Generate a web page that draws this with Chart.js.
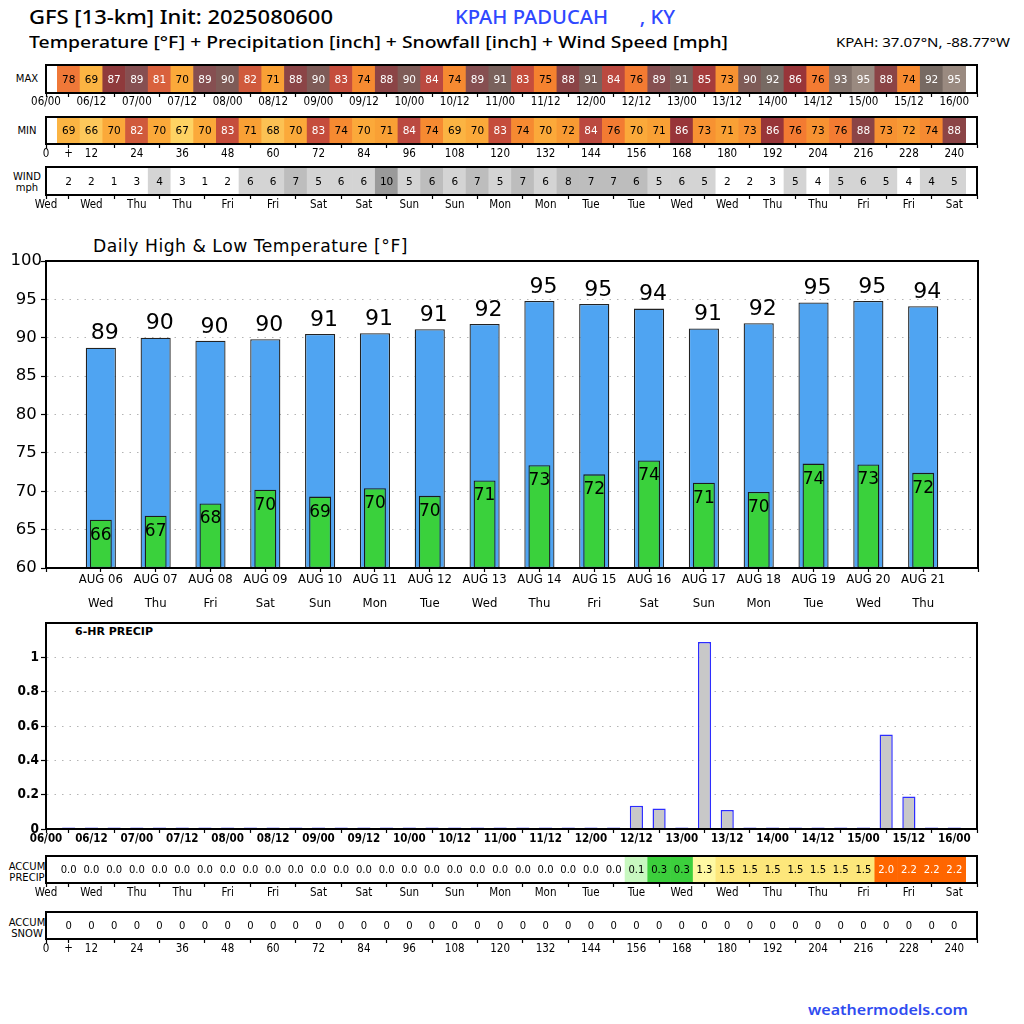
<!DOCTYPE html>
<html>
<head>
<meta charset="utf-8">
<title>GFS KPAH Paducah</title>
<script src="https://cdn.jsdelivr.net/npm/chart.js@4.4.1/dist/chart.umd.min.js"></script>
<style>
  html, body { margin: 0; padding: 0; background: #fff; }
  body { width: 1024px; height: 1024px; position: relative; overflow: hidden; font-family: 'DejaVu Sans', sans-serif; }
  canvas { position: absolute; left: 0; }
  .txt { position: absolute; white-space: pre; color: #000; transform-origin: 0 0; }
  .row { position: absolute; left: 0; width: 54px; text-align: center; font: 10px 'DejaVu Sans', sans-serif; line-height: 11px; }
</style>
</head>
<body>
<div class="txt" data-w="304" style="left:29px; top:4px; font:500 19px 'Noto Sans', sans-serif;">GFS [13-km] Init: 2025080600</div>
<div class="txt" data-w="220" style="left:455px; top:4px; font:500 19px 'Noto Sans', sans-serif; color:#2f48ff;">KPAH PADUCAH      , KY</div>
<div class="txt" data-w="699" style="left:29px; top:30px; font:500 17px 'Noto Sans', sans-serif;">Temperature [°F] + Precipitation [inch] + Snowfall [inch] + Wind Speed [mph]</div>
<div class="txt" data-w="174" style="left:836px; top:34px; font:12.5px 'Noto Sans', sans-serif;">KPAH: 37.07°N, -88.77°W</div>

<div class="row" style="top:73px;">MAX</div>
<div class="row" style="top:125px;">MIN</div>
<div class="row" style="top:171px;">WIND<br>mph</div>
<div class="row" style="top:861px;">ACCUM<br>PRECIP</div>
<div class="row" style="top:917px;">ACCUM<br>SNOW</div>

<div class="txt" data-w="315" style="left:93px; top:236px; font:17px 'DejaVu Sans', sans-serif; letter-spacing:0.5px;">Daily High &amp; Low Temperature [°F]</div>
<div class="txt" style="left:75px; top:625px; font:bold 11px 'DejaVu Sans', sans-serif;">6-HR PRECIP</div>
<div class="txt" data-w="160" style="left:808px; top:999px; font:600 15px 'Noto Sans', sans-serif; color:#2f4cf0;">weathermodels.com</div>

<canvas id="cMax" width="1024" height="60" style="top:60px"></canvas>
<canvas id="cMin" width="1024" height="60" style="top:112px"></canvas>
<canvas id="cWind" width="1024" height="60" style="top:162px"></canvas>
<canvas id="cTemp" width="1024" height="370" style="top:245px"></canvas>
<canvas id="cPrecip" width="1024" height="240" style="top:617px"></canvas>
<canvas id="cAccP" width="1024" height="55" style="top:850px"></canvas>
<canvas id="cAccS" width="1024" height="60" style="top:906px"></canvas>

<script>
// forecast hours of the 6-hourly cells
const hours = [6, 12, 18, 24, 30, 36, 42, 48, 54, 60, 66, 72, 78, 84, 90, 96, 102, 108, 114, 120,
               126, 132, 138, 144, 150, 156, 162, 168, 174, 180, 186, 192, 198, 204, 210, 216, 222, 228, 234, 240];

const maxTemps = [78, 69, 87, 89, 81, 70, 89, 90, 82, 71, 88, 90, 83, 74, 88, 90, 84, 74, 89, 91,
                  83, 75, 88, 91, 84, 76, 89, 91, 85, 73, 90, 92, 86, 76, 93, 95, 88, 74, 92, 95];
const minTemps = [69, 66, 70, 82, 70, 67, 70, 83, 71, 68, 70, 83, 74, 70, 71, 84, 74, 69, 70, 83,
                  74, 70, 72, 84, 76, 70, 71, 86, 73, 71, 73, 86, 76, 73, 76, 88, 73, 72, 74, 88];
const windMph = [2.3, 2.5, 1.6, 3.4, 4.8, 3.2, 1.5, 2.6, 6.2, 6.4, 7.3, 5.5, 6.1, 6.3, 10.2, 5.6, 6.95, 6.2, 7.4, 5.7,
                 7.2, 6.4, 8.3, 7.5, 7.1, 6.95, 5.4, 6.3, 5.5, 2.7, 2.4, 3.1, 5.2, 4.2, 5.3, 6.1, 5.6, 4.3, 4.7, 5.4];
const precip6h = [0, 0, 0, 0, 0, 0, 0, 0, 0, 0, 0, 0, 0, 0, 0, 0, 0, 0, 0, 0,
                  0, 0, 0, 0, 0, 0.135, 0.12, 0, 1.09, 0.11, 0, 0, 0, 0, 0, 0, 0.55, 0.19, 0, 0];
const accumPrecip = [0, 0, 0, 0, 0, 0, 0, 0, 0, 0, 0, 0, 0, 0, 0, 0, 0, 0, 0, 0,
                     0, 0, 0, 0, 0, 0.1, 0.3, 0.3, 1.3, 1.5, 1.5, 1.5, 1.5, 1.5, 1.5, 1.5, 2.0, 2.2, 2.2, 2.2];
const accumSnow = [0, 0, 0, 0, 0, 0, 0, 0, 0, 0, 0, 0, 0, 0, 0, 0, 0, 0, 0, 0,
                   0, 0, 0, 0, 0, 0, 0, 0, 0, 0, 0, 0, 0, 0, 0, 0, 0, 0, 0, 0];

// tick labels every 12 h (0 .. 240)
const dateTicks = ['06/00', '06/12', '07/00', '07/12', '08/00', '08/12', '09/00', '09/12', '10/00', '10/12', '11/00',
                   '11/12', '12/00', '12/12', '13/00', '13/12', '14/00', '14/12', '15/00', '15/12', '16/00'];
const hourTicks = ['0', '12', '24', '36', '48', '60', '72', '84', '96', '108', '120',
                   '132', '144', '156', '168', '180', '192', '204', '216', '228', '240'];
const dayTicks = ['Wed', 'Wed', 'Thu', 'Thu', 'Fri', 'Fri', 'Sat', 'Sat', 'Sun', 'Sun', 'Mon',
                  'Mon', 'Tue', 'Tue', 'Wed', 'Wed', 'Thu', 'Thu', 'Fri', 'Fri', 'Sat'];

// daily high / low chart
const days = ['AUG 06', 'AUG 07', 'AUG 08', 'AUG 09', 'AUG 10', 'AUG 11', 'AUG 12', 'AUG 13',
              'AUG 14', 'AUG 15', 'AUG 16', 'AUG 17', 'AUG 18', 'AUG 19', 'AUG 20', 'AUG 21'];
const weekdays = ['Wed', 'Thu', 'Fri', 'Sat', 'Sun', 'Mon', 'Tue', 'Wed', 'Thu', 'Fri', 'Sat', 'Sun', 'Mon', 'Tue', 'Wed', 'Thu'];
const dailyHigh = [88.7, 90.0, 89.6, 89.8, 90.5, 90.6, 91.1, 91.8, 94.8, 94.4, 93.8, 91.2, 91.9, 94.6, 94.8, 94.1];
const dailyHighLabel = [89, 90, 90, 90, 91, 91, 91, 92, 95, 95, 94, 91, 92, 95, 95, 94];
const dailyLow = [66.3, 66.8, 68.4, 70.2, 69.3, 70.4, 69.4, 71.4, 73.4, 72.2, 74.0, 71.1, 69.9, 73.6, 73.5, 72.4];
const dailyLowLabel = [66, 67, 68, 70, 69, 70, 70, 71, 73, 72, 74, 71, 70, 74, 73, 72];

const COND = "'DejaVu Sans Condensed', 'DejaVu Sans', sans-serif";
const SANS = "'DejaVu Sans', sans-serif";

// colour scales
const TEMP_COLORS = {
    66: '#fdc85b', 67: '#fed363', 68: '#fcc153', 69: '#fbb443', 70: '#fba93a', 71: '#f9a035', 72: '#f89a33',
    73: '#f79232', 74: '#f68a31', 75: '#f5822f', 76: '#f37b32', 78: '#ef7838', 81: '#d9613d', 82: '#d05a3c',
    83: '#c54d3c', 84: '#bb4940', 85: '#a53c3c', 86: '#983539', 87: '#8f3a3c', 88: '#8b4446', 89: '#864f51',
    90: '#7e5b57', 91: '#79615c', 92: '#776a63', 93: '#82726b', 95: '#9a8a80'
};
const tempColor = t => TEMP_COLORS[t] || '#ffffff';
const tempInk = t => (t > 80 ? '#ffffff' : '#000000');
const windColor = v => (v < 4.6 ? '#ffffff' : v < 6.9 ? '#d4d4d4' : v < 9.2 ? '#bdbdbd' : '#9a9a9a');
const precipColor = v => (v < 0.05 ? '#ffffff' : v < 0.2 ? '#c8f8c0' : v < 1.0 ? '#3ccf3c' :
                          v < 1.4 ? '#fef9a3' : v < 2.0 ? '#fde77b' : '#ff6600');

// black frame round the plot area
const frame = {
    id: 'frame',
    afterDraw(chart) {
        const { ctx, chartArea: a } = chart;
        ctx.save();
        ctx.strokeStyle = '#000';
        ctx.lineWidth = 2;
        ctx.strokeRect(a.left, a.top, a.right - a.left, a.bottom - a.top);
        ctx.restore();
    }
};

// text in the middle of each strip cell
function cellText(texts, inks, font) {
    return {
        id: 'cellText',
        afterDatasetsDraw(chart) {
            const { ctx, chartArea: a } = chart;
            const y = (a.top + a.bottom) / 2 + 1;
            ctx.save();
            ctx.font = font;
            ctx.textAlign = 'center';
            ctx.textBaseline = 'middle';
            chart.getDatasetMeta(0).data.forEach((bar, i) => {
                ctx.fillStyle = inks[i];
                ctx.fillText(texts[i], bar.x, y);
            });
            ctx.restore();
        }
    };
}

const noPadX = s => { s.paddingLeft = 0; s.paddingRight = 0; };

function hourAxis(labels, withPlus, xHeight, pad, bold) {
    return {
        type: 'linear',
        min: 0,
        max: 246,
        offset: false,
        afterFit: s => { s.height = xHeight; noPadX(s); },
        ticks: {
            stepSize: 6,
            autoSkip: false,
            maxRotation: 0,
            minRotation: 0,
            padding: pad,
            color: '#000',
            font: { family: COND, size: 11.5, weight: bold ? 'bold' : 'normal' },
            callback: v => (v % 12 === 0 ? labels[v / 12] : (withPlus && v === 6 ? '+' : ''))
        },
        grid: {
            offset: false,
            drawOnChartArea: false,
            drawTicks: true,
            tickLength: 4,
            tickWidth: 1.2,
            tickColor: c => (c.tick && c.tick.value % 12 === 0 && c.tick.value !== 0 ? 'rgba(0,0,0,0)' : '#000')
        },
        border: { display: true, color: '#000', width: 2 }
    };
}

function strip(id, fills, texts, inks, font, labels, withPlus, padTop, xHeight, pad) {
    return new Chart(document.getElementById(id), {
        type: 'bar',
        data: {
            datasets: [{
                data: hours.map(h => ({ x: h, y: [0, 1] })),
                backgroundColor: fills,
                borderWidth: 0,
                barPercentage: 1,
                categoryPercentage: 1
            }]
        },
        options: {
            responsive: false,
            animation: false,
            events: [],
            layout: { padding: { top: padTop, left: 46, right: 47, bottom: 0 }, autoPadding: false },
            plugins: { legend: { display: false }, tooltip: { enabled: false } },
            scales: {
                x: hourAxis(labels, withPlus, xHeight, pad, false),
                y: { display: false, min: 0, max: 1 }
            }
        },
        plugins: [cellText(texts, inks, font), frame]
    });
}

const cellFont = "10.5px " + SANS;

strip('cMax', maxTemps.map(tempColor), maxTemps.map(String), maxTemps.map(tempInk), cellFont,
      dateTicks, false, 5, 27, -1.5);
strip('cMin', minTemps.map(tempColor), minTemps.map(String), minTemps.map(tempInk), cellFont,
      hourTicks, true, 5, 28, -1.2);
strip('cWind', windMph.map(windColor), windMph.map(v => String(Math.floor(v))), windMph.map(() => '#000'), cellFont,
      dayTicks, false, 5, 27, -0.5);
strip('cAccP', accumPrecip.map(precipColor), accumPrecip.map(v => v.toFixed(1)),
      accumPrecip.map(v => (v >= 2.0 ? '#ffffff' : '#000')), "10px " + SANS,
      dayTicks, false, 6, 22, -1.2);
strip('cAccS', accumSnow.map(() => '#ffffff'), accumSnow.map(v => String(v)), accumSnow.map(() => '#000'), "10px " + SANS,
      hourTicks, true, 6, 27, -1);

// value labels for the daily chart
const dailyLabels = {
    id: 'dailyLabels',
    afterDatasetsDraw(chart) {
        const { ctx } = chart;
        const ys = chart.scales.y;
        ctx.save();
        ctx.fillStyle = '#000';
        ctx.textAlign = 'center';
        ctx.font = '22px ' + SANS;
        ctx.textBaseline = 'bottom';
        chart.getDatasetMeta(1).data.forEach((bar, i) => {
            ctx.fillText(String(dailyHighLabel[i]), bar.x + 4, ys.getPixelForValue(dailyHigh[i]) - 3);
        });
        ctx.font = '17px ' + SANS;
        ctx.textBaseline = 'top';
        chart.getDatasetMeta(0).data.forEach((bar, i) => {
            ctx.fillText(String(dailyLowLabel[i]), bar.x, ys.getPixelForValue(dailyLow[i]) + 7);
        });
        ctx.restore();
    }
};

new Chart(document.getElementById('cTemp'), {
    type: 'bar',
    data: {
        datasets: [
            {
                label: 'Low',
                data: dailyLow.map((v, i) => ({ x: i + 1, y: [60, v] })),
                backgroundColor: '#3ad13c',
                borderColor: '#1c1c1c',
                borderWidth: 1.3,
                borderSkipped: false,
                barPercentage: 0.4,
                categoryPercentage: 1,
                grouped: false,
                order: 0
            },
            {
                label: 'High',
                data: dailyHigh.map((v, i) => ({ x: i + 1, y: [60, v] })),
                backgroundColor: '#4fa4f2',
                borderColor: '#222',
                borderWidth: 1.3,
                borderSkipped: false,
                barPercentage: 0.55,
                categoryPercentage: 1,
                grouped: false,
                order: 1
            }
        ]
    },
    options: {
        responsive: false,
        animation: false,
        events: [],
        layout: { padding: { top: 16, left: 0, right: 46, bottom: 0 }, autoPadding: false },
        plugins: { legend: { display: false }, tooltip: { enabled: false } },
        scales: {
            x: {
                type: 'linear',
                min: 0,
                max: 17,
                offset: false,
                afterFit: s => { s.height = 47; noPadX(s); },
                ticks: {
                    stepSize: 1,
                    autoSkip: false,
                    maxRotation: 0,
                    minRotation: 0,
                    padding: -5,
                    color: '#000',
                    font: { family: COND, size: 13, lineHeight: 1.9 },
                    callback: v => (v >= 1 && v <= 16 ? [days[v - 1], weekdays[v - 1]] : '')
                },
                grid: { offset: false, drawOnChartArea: false, tickLength: 4, tickWidth: 1.2, tickColor: '#000' },
                border: { color: '#000', width: 2 }
            },
            y: {
                min: 60,
                max: 100,
                afterFit: s => { s.width = 46; s.paddingTop = 0; s.paddingBottom = 0; },
                ticks: {
                    stepSize: 5,
                    crossAlign: 'center',
                    padding: -1,
                    color: '#000',
                    font: { family: SANS, size: 16.5 }
                },
                grid: {
                    color: c => (c.tick && c.tick.value === 60 ? 'rgba(0,0,0,0)' : '#b4b4b4'),
                    lineWidth: 1,
                    tickLength: 5,
                    tickWidth: 1.2,
                    tickColor: '#000',
                    tickBorderDash: []
                },
                border: { color: '#000', width: 2, dash: [1.5, 6] }
            }
        }
    },
    plugins: [dailyLabels, frame]
});

// 6-hourly precipitation bars
new Chart(document.getElementById('cPrecip'), {
    type: 'bar',
    data: {
        datasets: [{
            label: '6-HR PRECIP',
            data: hours.map((h, i) => ({ x: h, y: precip6h[i] })),
            backgroundColor: '#c8c8c8',
            borderColor: '#2d2dff',
            borderWidth: 1.5,
            minBarLength: 1.5,
            barPercentage: 0.58,
            categoryPercentage: 1
        }]
    },
    options: {
        responsive: false,
        animation: false,
        events: [],
        layout: { padding: { top: 6, left: 0, right: 47, bottom: 0 }, autoPadding: false },
        plugins: { legend: { display: false }, tooltip: { enabled: false } },
        scales: {
            x: hourAxis(dateTicks, false, 28, -0.7, true),
            y: {
                min: 0,
                max: 1.2,
                afterFit: s => { s.width = 46; s.paddingTop = 0; s.paddingBottom = 0; },
                ticks: {
                    stepSize: 0.2,
                    padding: 2,
                    color: '#000',
                    font: { family: COND, size: 13.5, weight: 'bold' },
                    callback: v => (v > 1.1 ? '' : String(Math.round(v * 10) / 10))
                },
                grid: {
                    color: c => (c.tick && (c.tick.value < 0.01 || c.tick.value > 1.1) ? 'rgba(0,0,0,0)' : '#b4b4b4'),
                    tickLength: 5,
                    tickWidth: 1.2,
                    tickColor: c => (c.tick && c.tick.value > 1.1 ? 'rgba(0,0,0,0)' : '#000'),
                    tickBorderDash: []
                },
                border: { color: '#000', width: 2, dash: [1.5, 6] }
            }
        }
    },
    plugins: [frame]
});

// stretch header texts to the widths they take in the original
function fitTexts() {
    document.querySelectorAll('[data-w]').forEach(el => {
        el.style.transform = 'none';
        const w = el.getBoundingClientRect().width;
        if (w > 0) el.style.transform = 'scaleX(' + (Number(el.dataset.w) / w) + ')';
    });
}
fitTexts();
if (document.fonts && document.fonts.ready) document.fonts.ready.then(fitTexts);
</script>
</body>
</html>
